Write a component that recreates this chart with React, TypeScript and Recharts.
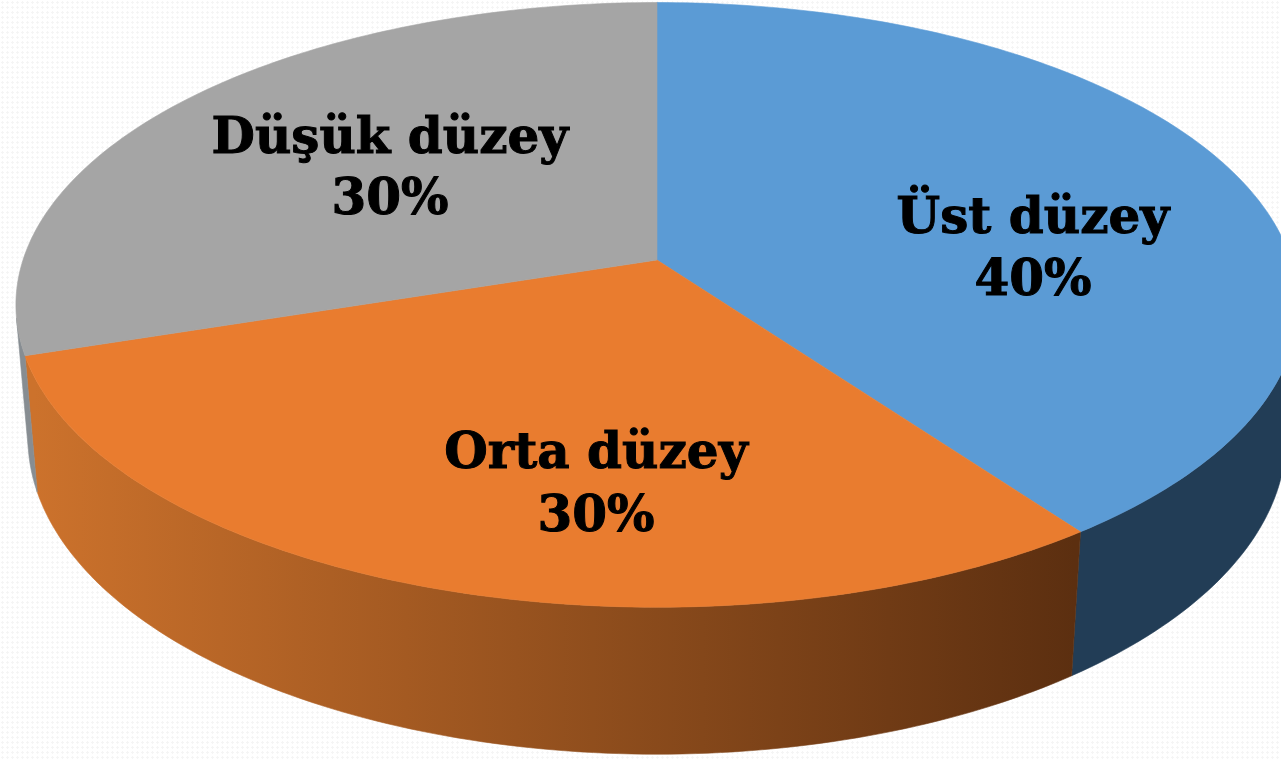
// 3D pie: Recharts lays out the slice angles, custom shapes project them through a tilted perspective
import { Cell, Pie, PieChart } from "recharts";

const categories = ["Üst düzey", "Orta düzey", "Düşük düzey"];
const shares = [40, 30, 30];
const percentLabels = ["40%", "30%", "30%"];
const topColors = ["#5b9bd5", "#e97c2f", "#a5a5a5"];
const wallColors = ["#223d56", "url(#orangeWall)", "#878d92"];

// where each label sits on the picture
const labelX = [1033, 596, 390];
const labelY = [233, 468, 153];
const lineGap = [62, 63, 61];

const data = categories.map((name, i) => ({ name, value: shares[i] }));

const WIDTH = 1281;
const HEIGHT = 759;
const RADIUS = 634;
const WALL_DEPTH = 152;
const PERSPECTIVE = 3780;
const TILT = (62.2 * Math.PI) / 180;

type Pt = [number, number];

// slice-local point (angle in Recharts degrees, depth below the top face) to screen
function project(cx: number, cy: number, r: number, angle: number, depth: number): Pt {
  const rad = (-angle * Math.PI) / 180;
  const dx = r * Math.cos(rad);
  const dy = r * Math.sin(rad);
  const y = dy * Math.cos(TILT) + depth * Math.sin(TILT);
  const z = dy * Math.sin(TILT) - depth * Math.cos(TILT);
  const s = PERSPECTIVE / (PERSPECTIVE - z);
  return [cx + dx * s, cy + y * s];
}

const fmt = (p: Pt) => `${p[0].toFixed(2)} ${p[1].toFixed(2)}`;

function arcAngles(start: number, end: number) {
  const steps = Math.ceil(Math.abs(end - start));
  const out: number[] = [];
  for (let i = 0; i <= steps; i++) out.push(start + ((end - start) * i) / steps);
  return out;
}

function TopSlice(props: any) {
  const { cx, cy, outerRadius, startAngle, endAngle, fill } = props;
  const pts = arcAngles(startAngle, endAngle).map((a) => fmt(project(cx, cy, outerRadius, a, 0)));
  const d = `M${cx} ${cy}L${pts.join("L")}Z`;
  return <path d={d} fill={fill} stroke={fill} strokeWidth={0.6} />;
}

// only the camera-facing run of the arc is drawn, so hidden parts don't paint over neighbours
function WallSlice(props: any) {
  const { cx, cy, outerRadius, startAngle, endAngle, fill } = props;
  const angles = arcAngles(startAngle, endAngle);
  const front: number[] = [];
  for (let i = 1; i < angles.length; i++) {
    const q = [
      project(cx, cy, outerRadius, angles[i - 1], 0),
      project(cx, cy, outerRadius, angles[i], 0),
      project(cx, cy, outerRadius, angles[i], WALL_DEPTH),
      project(cx, cy, outerRadius, angles[i - 1], WALL_DEPTH),
    ];
    let area = 0;
    q.forEach((p, k) => {
      const n = q[(k + 1) % 4];
      area += p[0] * n[1] - n[0] * p[1];
    });
    if (area < 0) {
      if (front.length === 0) front.push(angles[i - 1]);
      front.push(angles[i]);
    }
  }
  if (front.length === 0) return null;
  const upper = front.map((a) => fmt(project(cx, cy, outerRadius, a, 0)));
  const lower = front.map((a) => fmt(project(cx, cy, outerRadius, a, WALL_DEPTH))).reverse();
  return <path d={`M${upper.join("L")}L${lower.join("L")}Z`} fill={fill} stroke={fill} strokeWidth={0.6} />;
}

function SliceLabel({ index }: any) {
  return (
    <text
      textAnchor="middle"
      fontFamily="'DejaVu Serif', serif"
      fontWeight={700}
      fontSize={50}
      fill="#000000"
      stroke="#000000"
      strokeWidth={1}
    >
      <tspan x={labelX[index]} y={labelY[index]}>{categories[index]}</tspan>
      <tspan x={labelX[index]} y={labelY[index] + lineGap[index]}>{percentLabels[index]}</tspan>
    </text>
  );
}

export default function App() {
  return (
    <div
      style={{
        position: "fixed",
        left: 0,
        top: 0,
        width: WIDTH,
        height: HEIGHT,
        overflow: "hidden",
        backgroundColor: "#ffffff",
        backgroundImage: "radial-gradient(#f5f5f5 1px, transparent 1.2px)",
        backgroundSize: "5px 5px",
      }}
    >
      <PieChart width={WIDTH} height={HEIGHT} margin={{ top: 0, right: 0, bottom: 0, left: 0 }}>
        <defs>
          <linearGradient id="orangeWall" gradientUnits="userSpaceOnUse" x1={34} y1={0} x2={1075} y2={0}>
            <stop offset="0%" stopColor="#cc722c" />
            <stop offset="100%" stopColor="#5c2f10" />
          </linearGradient>
        </defs>
        <Pie
          data={data}
          dataKey="value"
          cx={657}
          cy={260}
          innerRadius={0}
          outerRadius={RADIUS}
          startAngle={90}
          endAngle={-270}
          shape={WallSlice}
          isAnimationActive={false}
        >
          {data.map((d, i) => (
            <Cell key={d.name} fill={wallColors[i]} />
          ))}
        </Pie>
        <Pie
          data={data}
          dataKey="value"
          cx={657}
          cy={260}
          innerRadius={0}
          outerRadius={RADIUS}
          startAngle={90}
          endAngle={-270}
          shape={TopSlice}
          label={SliceLabel}
          labelLine={false}
          isAnimationActive={false}
        >
          {data.map((d, i) => (
            <Cell key={d.name} fill={topColors[i]} />
          ))}
        </Pie>
      </PieChart>
    </div>
  );
}
